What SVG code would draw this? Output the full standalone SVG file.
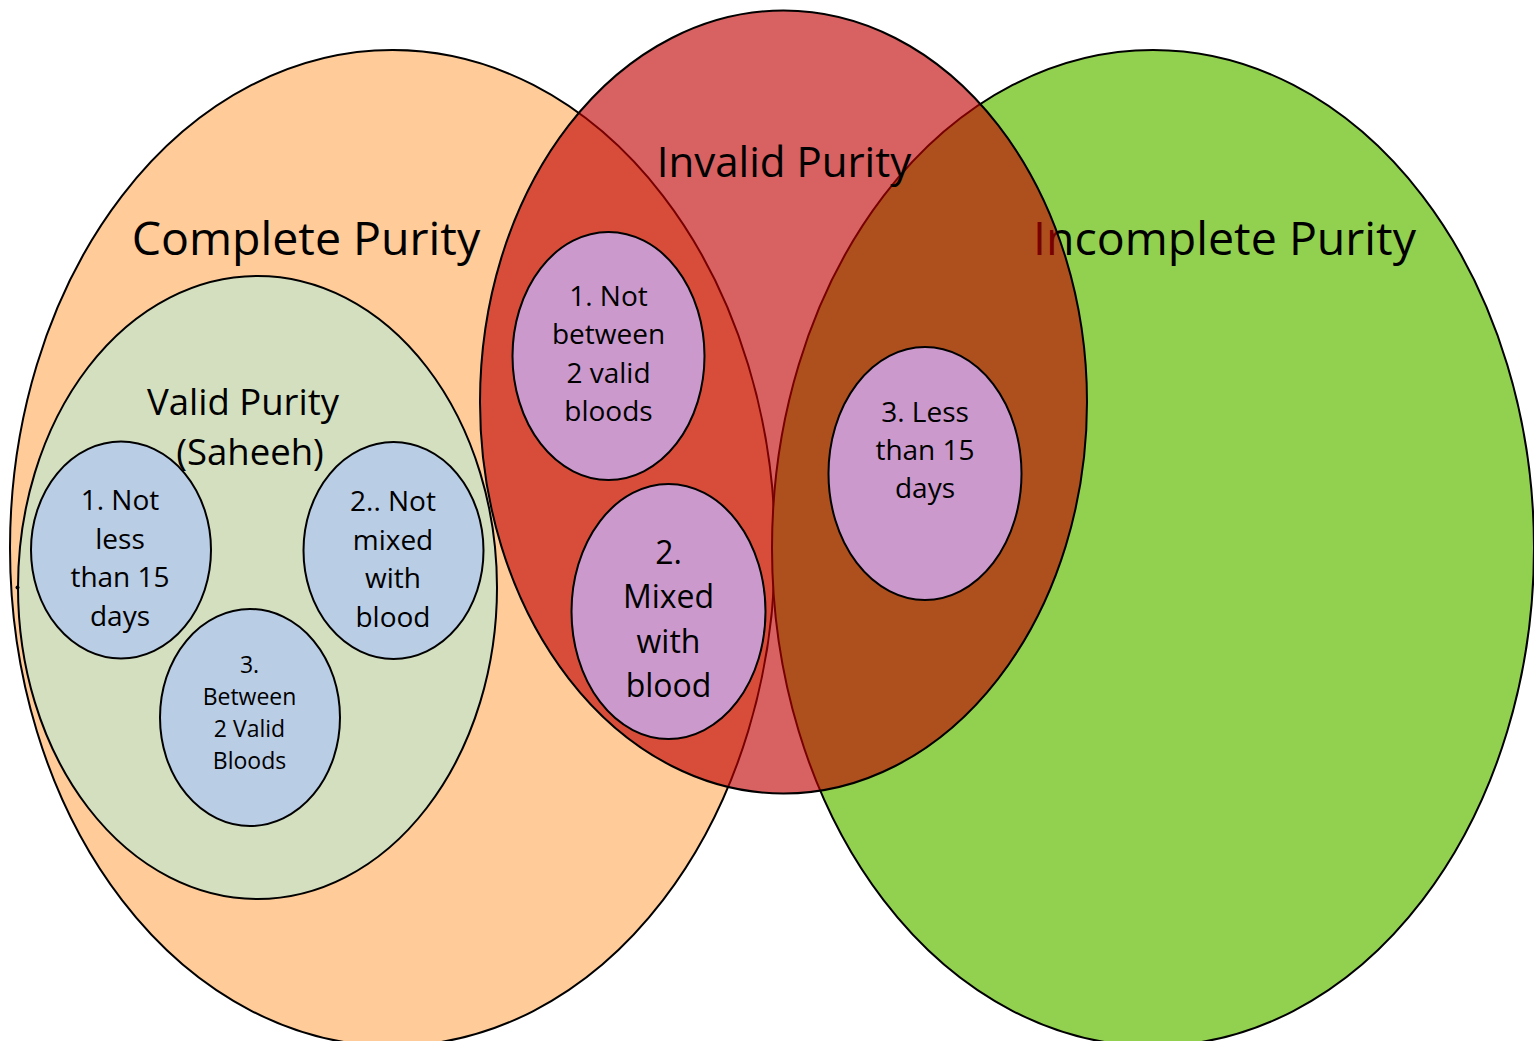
<svg xmlns="http://www.w3.org/2000/svg" width="1534" height="1041" viewBox="0 0 1534 1041">
<style>
  .ol { stroke: #000; stroke-width: 2; }
  .orange { fill: #FECB99; }
  .green { fill: #92D050; }
  .valid { fill: #D3DFBF; }
  .blue { fill: #B9CDE5; }
  .pink { fill: #CC99CC; }
  .red { fill: #C00000; fill-opacity: 0.62; }
  text { font-family: "Open Sans", "Noto Sans", "DejaVu Sans", sans-serif; fill: #000; text-anchor: middle; }
  .big { font-size: 46.5px; }
  .mid { font-size: 42px; }
  .vp { font-size: 36.5px; }
  .sm { font-size: 28px; }
  .xs { font-size: 23px; }
  .pk2 { font-size: 32px; }
</style>
<rect width="1534" height="1041" fill="#FFFFFF"/>

<g id="complete-purity">
  <ellipse class="orange ol" cx="392.5" cy="548" rx="382.5" ry="498"/>
  <text class="big" x="306" y="255">Complete Purity</text>
</g>

<g id="valid-purity">
  <ellipse class="valid ol" cx="257.5" cy="587.5" rx="239.5" ry="311.5"/>
  <circle cx="17.5" cy="587.5" r="2" fill="#000"/>
  <text class="vp" x="243" y="415">Valid Purity</text>
  <text class="vp" x="250" y="465">(Saheeh)</text>
</g>

<g id="valid-1">
  <ellipse class="blue ol" cx="121" cy="550" rx="90" ry="108.5"/>
  <text class="sm" x="120" y="510">1. Not</text>
  <text class="sm" x="120" y="548.5">less</text>
  <text class="sm" x="120" y="587">than 15</text>
  <text class="sm" x="120" y="625.5">days</text>
</g>

<g id="valid-2">
  <ellipse class="blue ol" cx="393.5" cy="550.5" rx="90" ry="108.5"/>
  <text class="sm" x="393" y="511">2.. Not</text>
  <text class="sm" x="393" y="549.5">mixed</text>
  <text class="sm" x="393" y="588">with</text>
  <text class="sm" x="393" y="626.5">blood</text>
</g>

<g id="valid-3">
  <ellipse class="blue ol" cx="250" cy="717.5" rx="90" ry="108.5"/>
  <text class="xs" x="249.5" y="673">3.</text>
  <text class="xs" x="249.5" y="705">Between</text>
  <text class="xs" x="249.5" y="737">2 Valid</text>
  <text class="xs" x="249.5" y="769">Bloods</text>
</g>

<g id="incomplete-purity">
  <ellipse class="green ol" cx="1153" cy="548" rx="381" ry="498"/>
  <text class="big" x="1224.5" y="255">Incomplete Purity</text>
</g>

<g id="invalid-purity">
  <ellipse class="red ol" cx="783.5" cy="402" rx="303.5" ry="391.5"/>
  <text class="mid" x="784" y="177">Invalid Purity</text>
</g>

<g id="invalid-1">
  <ellipse class="pink ol" cx="608.5" cy="356" rx="96" ry="124"/>
  <text class="sm" x="608.5" y="306">1. Not</text>
  <text class="sm" x="608.5" y="344">between</text>
  <text class="sm" x="608.5" y="382.5">2 valid</text>
  <text class="sm" x="608.5" y="420.5">bloods</text>
</g>

<g id="invalid-2">
  <ellipse class="pink ol" cx="668.5" cy="611.5" rx="97" ry="127.5"/>
  <text class="pk2" x="668.5" y="563.5">2.</text>
  <text class="pk2" x="668.5" y="608">Mixed</text>
  <text class="pk2" x="668.5" y="652.5">with</text>
  <text class="pk2" x="668.5" y="697">blood</text>
</g>

<g id="invalid-3">
  <ellipse class="pink ol" cx="925" cy="473.5" rx="96.5" ry="126.5"/>
  <text class="sm" x="925" y="422">3. Less</text>
  <text class="sm" x="925" y="460">than 15</text>
  <text class="sm" x="925" y="498">days</text>
</g>

<g id="connectors"></g>
</svg>
